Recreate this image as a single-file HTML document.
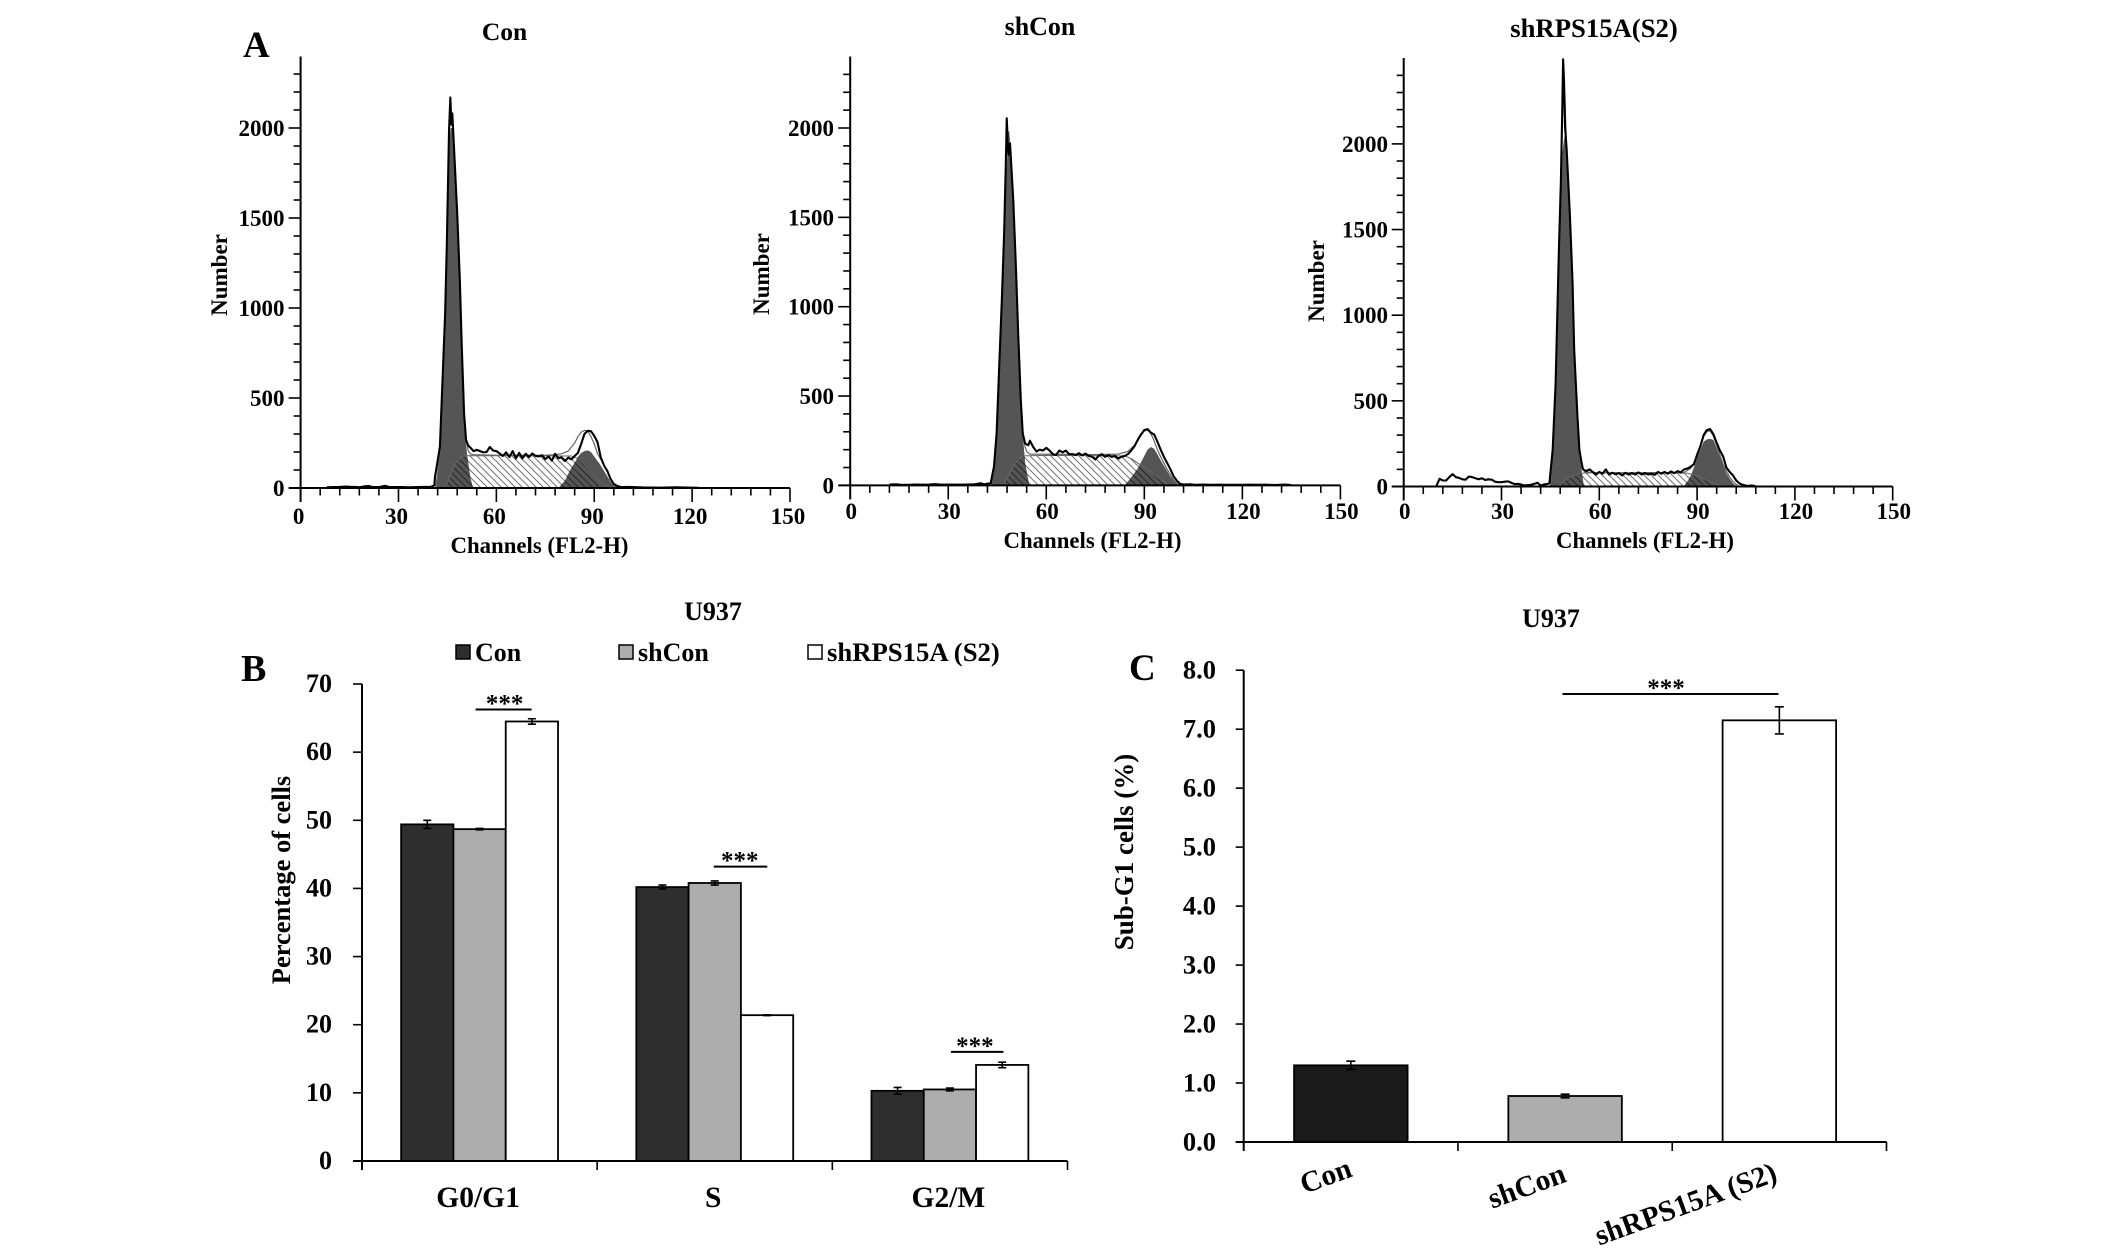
<!DOCTYPE html>
<html lang="en">
<head>
<meta charset="utf-8">
<title>Cell cycle analysis of U937 cells</title>
<style>
  html, body { margin: 0; padding: 0; background: #fff; }
  body { width: 2126px; height: 1252px; overflow: hidden; }
  svg { display: block; }
  text { font-family: "Liberation Serif", "Times New Roman", serif; font-weight: bold; fill: #000; }
</style>
</head>
<body>
<svg id="figure" xmlns="http://www.w3.org/2000/svg" width="2126" height="1252" viewBox="0 0 2126 1252">
  <defs>
    <pattern id="hatch" patternUnits="userSpaceOnUse" width="7" height="7">
      <path d="M-1,-1 L8,8 M-8,-1 L1,8 M6,-1 L15,8" stroke="#000" stroke-opacity="0.55" stroke-width="1" fill="none"/>
    </pattern>
  </defs>
  <rect x="0" y="0" width="2126" height="1252" fill="#fff"/>

  <text x="243" y="57" font-size="37">A</text>
  <text x="241" y="681" font-size="38">B</text>
  <text x="1129" y="680" font-size="37">C</text>

  <text x="504.5" y="40" font-size="25.5" text-anchor="middle">Con</text>
  <text x="1040" y="35" font-size="26" text-anchor="middle">shCon</text>
  <text x="1594" y="37" font-size="26.7" text-anchor="middle">shRPS15A(S2)</text>

  <text x="539.5" y="553" font-size="22.8" text-anchor="middle">Channels (FL2-H)</text>
  <text x="1092.5" y="548" font-size="22.8" text-anchor="middle">Channels (FL2-H)</text>
  <text x="1645" y="548" font-size="22.8" text-anchor="middle">Channels (FL2-H)</text>

  <text transform="translate(227,275) rotate(-90)" font-size="23" text-anchor="middle">Number</text>
  <text transform="translate(769,274) rotate(-90)" font-size="23" text-anchor="middle">Number</text>
  <text transform="translate(1324,281) rotate(-90)" font-size="23" text-anchor="middle">Number</text>

  <text x="713" y="620" font-size="26" text-anchor="middle">U937</text>
  <text transform="translate(290,880) rotate(-90)" font-size="26.5" text-anchor="middle">Percentage of cells</text>

  <g>
    <g>
      <rect x="456" y="645" width="14" height="14" fill="#2e2e2e" stroke="#000" stroke-width="1.5"/>
      <text x="475" y="661" font-size="26">Con</text>
    </g>
    <g>
      <rect x="619" y="645" width="14" height="14" fill="#adadad" stroke="#000" stroke-width="1.5"/>
      <text x="638" y="661" font-size="26">shCon</text>
    </g>
    <g>
      <rect x="808" y="645" width="14" height="14" fill="#fff" stroke="#000" stroke-width="1.5"/>
      <text x="827" y="661" font-size="26.7">shRPS15A (S2)</text>
    </g>
  </g>

  <text x="1551" y="627" font-size="26" text-anchor="middle">U937</text>
  <text transform="translate(1133,852) rotate(-90)" font-size="27" text-anchor="middle">Sub-G1 cells (%)</text>

  <g id="histograms"></g>
  <g id="barsB"></g>
  <g id="barsC"></g>
</svg>

<script>
// ---------- Histogram data: Con ----------
const conRawChannels = [8,10,12,14,15,17,18,20,21,22,24,26,27,29,31,33,36,38,40,41,41.2,42,42.7,43.5,44.3,44.8,45.2,45.5,45.9,46.2,46.5,47,48,48.8,49.4,50.1,50.7,51.4,52,53,54,55,56,57,58,59,60,61,62,63,64,65,66,67,68,69,70,71,72,73,74,75,76,77,78,79,80,81,82,83,84,85,86,87,88,89,90,91,92,93,94,95,96,97,98,99,100,102,105,110,115,120,122];
const conRawCounts = [4,5,6,8,7,6,4,10,11,5,5,12,6,5,5,4,5,6,7,15,63,150,230,600,970,1340,1711,1989,2170,2020,2081,1896,1526,1156,785,415,267,235,225,205,212,205,198,200,228,208,205,192,178,198,172,205,165,195,165,190,172,192,178,175,182,160,175,152,190,165,170,150,168,160,178,195,245,300,318,315,290,255,170,125,95,50,22,12,6,5,6,5,3,2,4,2,1];
const conFitChannels = [41.5,42.7,43.5,44.3,44.8,45.2,45.5,46,46.5,47,48,48.8,49.4,50.1,50.7,51.4,52,53,60,75,78,80,82,84,85,86,87,88,89,90,91,92,93,94,95,96,97];
const conFitCounts = [0,200,570,950,1300,1680,1950,2110,2030,1870,1500,1130,770,420,280,205,190,185,182,182,185,190,205,250,285,310,320,318,285,245,190,160,130,90,50,20,0];
const conG1Channels = [41.2,42,42.7,43.5,44.3,44.8,45.2,45.5,46,46.5,47,48,48.8,49.4,50.1,50.5,51,52,52.9];
const conG1Counts = [0,100,200,570,940,1300,1650,1900,2000,2000,1860,1500,1130,760,400,300,190,60,0];
const conSChannels = [43.9,45,46,47,48,49,50,50.8,83,85,87,89,91,93,94.5];
const conSCounts = [0,30,75,120,150,168,178,180,178,165,130,90,50,15,0];
const conG2Channels = [79,81,82.6,84,85.1,86,87,88,89,90,91,91.5,93,94,95,96,97];
const conG2Counts = [0,40,100,140,176,195,205,209,200,175,150,139,95,65,35,13,0];

// ---------- Histogram data: shCon ----------
const shConRawChannels = [12,14,16,18,20,22,24,26,28,30,33,36,38,40,41,42,43,44,44.8,45.6,46.4,47.1,47.6,47.9,48.4,48.9,49.9,50.7,51.4,52.2,52.8,53.5,54.5,55,56,57,58,59,60,61,62,63,64,65,66,67,68,69,70,71,72,73,74,75,76,77,78,79,80,81,82,83,84,85,86,87,88,89,90,91,92,93,94,95,96,97,98,99,100,101,102,104,106,108,110,113,115,120,122,125,127,130,133,135];
const shConRawCounts = [5,6,3,3,5,4,5,7,4,5,4,5,6,12,6,10,12,105,291,665,1038,1411,1784,2054,1850,1914,1597,1224,851,478,291,235,225,250,215,190,200,195,210,195,175,170,195,185,195,175,175,170,180,168,178,165,160,145,165,175,160,170,160,165,150,160,165,175,195,220,255,285,310,315,295,285,245,200,160,125,90,50,25,8,5,6,3,5,3,4,3,3,4,3,4,2,5,2];
const shConFitChannels = [43.3,44,44.8,45.6,46.4,47.1,47.6,48,48.5,49,49.9,50.7,51.4,52.2,52.8,53.5,54,55,75,82,85,87,89,90,91,92,93,94,95,96,97,98,99,100,101];
const shConFitCounts = [0,90,280,650,1020,1400,1760,1950,1980,1880,1590,1220,850,470,300,215,190,175,172,175,190,225,285,305,310,290,250,200,160,125,90,60,30,10,0];
const shConG1Channels = [43.3,44,44.8,45.6,46.4,47.1,47.6,48.2,48.9,49.9,50.7,51.4,52.2,52.8,53.5,54.8];
const shConG1Counts = [0,80,260,640,1010,1380,1700,1880,1850,1570,1200,830,460,290,130,0];
const shConSChannels = [46.5,48,50,52,53,60,84,86,88,90,92,94,96,97.5];
const shConSCounts = [0,40,110,155,165,168,165,150,125,100,75,45,20,0];
const shConG2Channels = [84,86,88,90,91,92,93,94,95,96,97,98,99,100,100.8];
const shConG2Counts = [0,45,95,165,200,215,205,175,140,110,80,50,28,8,0];

// ---------- Histogram data: shRPS15A(S2) ----------
const shRpsRawChannels = [10,11,12,13,14,15,16,17,18,19,20,21,22,23,24,25,26,27,28,29,30,31,32,33,34,35,36,37,38,39,40,41,42,43,44,44.7,45.7,46.6,47.1,47.6,48.2,48.6,48.9,49.2,49.5,50,51,51.8,52.3,53.3,53.9,54.6,55,56,57,58,59,60,61,62,63,64,65,66,67,68,69,70,71,72,73,74,75,76,77,78,79,80,81,82,83,84,85,86,87,88,89,90,91,92,93,94,95,96,97,98,99,100,101,102,103,104,105,106,107,108];
const shRpsRawCounts = [2,45,35,35,55,72,55,50,42,40,58,55,48,42,48,38,42,40,28,25,25,28,30,22,14,15,12,6,8,10,15,22,6,12,14,19,213,602,991,1379,1768,2157,2494,2354,2100,1963,1575,1186,797,408,213,135,100,90,100,85,70,85,75,100,70,80,72,78,65,80,70,78,70,82,70,78,70,75,68,85,75,85,75,88,78,90,82,100,105,115,130,185,235,300,330,335,305,255,210,175,110,85,65,35,18,10,5,4,6,1];
const shRpsFitChannels = [45,45.7,46.6,47.1,47.6,48.2,48.6,49,49.4,50,51,51.8,52.3,53.3,53.9,54.6,55.5,60,86,88,89,90,91,92,93,94,95,96,97,98,99,100,101,102,103];
const shRpsFitCounts = [0,200,590,980,1370,1760,2100,2350,2300,1950,1560,1170,780,400,200,110,85,80,82,105,130,175,235,290,320,325,295,240,185,130,90,55,30,12,0];
const shRpsG1Channels = [45,45.7,46.6,47.1,47.6,48.2,48.7,49.3,50,51,51.8,52.3,53.3,53.9,54.6,55.3];
const shRpsG1Counts = [0,180,570,960,1350,1730,1950,2050,1930,1540,1150,770,380,200,90,0];
const shRpsSChannels = [47.5,49,51,53,55,60,87,89,90.3,93.9,97,98];
const shRpsSCounts = [0,30,55,70,78,80,78,68,58,29,6,0];
const shRpsG2Channels = [85.8,87,88,89,90,91,92,93,94,95,96,97,98,99,100,101,102.3];
const shRpsG2Counts = [0,30,60,110,165,215,262,275,278,272,225,175,125,78,45,20,0];

// ---------- Histogram tick labels ----------
const histXTickLabels = [0,30,60,90,120,150];
const histYTickLabels = [0,500,1000,1500,2000];

// ---------- Bar chart B data ----------
const phaseCategories = ['G0/G1','S','G2/M'];
const phaseConValues = [49.4,40.2,10.3];
const phaseShConValues = [48.7,40.8,10.5];
const phaseShRpsValues = [64.5,21.4,14.1];
const phaseConErrors = [0.6,0.3,0.5];
const phaseShConErrors = [0.1,0.3,0.2];
const phaseShRpsErrors = [0.4,0.05,0.4];
const phaseYTickLabels = ['0','10','20','30','40','50','60','70'];

// ---------- Bar chart C data ----------
const subG1Categories = ['Con','shCon','shRPS15A (S2)'];
const subG1Values = [1.3,0.78,7.15];
const subG1Errors = [0.07,0.03,0.23];
const subG1YTickLabels = ['0.0','1.0','2.0','3.0','4.0','5.0','6.0','7.0','8.0'];

// ---------- Helpers ----------
const NS = 'http://www.w3.org/2000/svg';
function add(parent, tag, attrs, text) {
  const el = document.createElementNS(NS, tag);
  for (const k in attrs) el.setAttribute(k, attrs[k]);
  if (text !== undefined) el.textContent = text;
  parent.appendChild(el);
  return el;
}
function linePath(xs, ys, sx, sy) {
  return xs.map((c, i) => (i ? 'L' : 'M') + sx(c).toFixed(2) + ',' + sy(ys[i]).toFixed(2)).join(' ');
}
function areaPath(xs, ys, sx, sy) {
  return linePath(xs, ys, sx, sy) + ' L' + sx(xs[xs.length - 1]).toFixed(2) + ',' + sy(0).toFixed(2) +
    ' L' + sx(xs[0]).toFixed(2) + ',' + sy(0).toFixed(2) + ' Z';
}

// ---------- Histogram panels ----------
function drawHistogram(root, p, d) {
  const sx = c => p.x0 + (c / 150) * (p.x150 - p.x0);
  const sy = n => p.y0 - (n / 2000) * (p.y0 - p.y2000);
  const g = add(root, 'g', {});
  
  

  const g1 = add(g, 'path', { d: areaPath(d.g1x, d.g1y, sx, sy), fill: '#555' });
  
  
  const g2 = add(g, 'path', { d: areaPath(d.g2x, d.g2y, sx, sy), fill: '#555' });
  
  
  const sp = add(g, 'path', { d: areaPath(d.sx, d.sy, sx, sy), fill: 'url(#hatch)', stroke: '#666', 'stroke-width': 1 });
  
  
  const fit = add(g, 'path', { d: linePath(d.fitx, d.fity, sx, sy), fill: 'none', stroke: '#666', 'stroke-width': 1.2 });
  
  
  const raw = add(g, 'path', { d: linePath(d.rawx, d.rawy, sx, sy), fill: 'none', stroke: '#000', 'stroke-width': 2.1, 'stroke-linejoin': 'round' });
  
  

  const yAxis = add(g, 'line', { x1: p.x0, x2: p.x0, y1: sy(0) + 14, y2: p.top, stroke: '#000', 'stroke-width': 2 });
  
  
  const xAxis = add(g, 'line', { x1: p.x0 - 12, x2: p.x150, y1: sy(0), y2: sy(0), stroke: '#000', 'stroke-width': 2 });
  
  

  for (let n = 100; n <= p.maxTick; n += 100) {
    const major = n % 500 === 0;
    const t = add(g, 'line', { x1: p.x0 - (major ? 12 : 7), x2: p.x0, y1: sy(n), y2: sy(n), stroke: '#000', 'stroke-width': 1.6 });
    
    
  }
  for (let c = 6; c <= 150; c += 6) {
    const major = c % 30 === 0;
    const t = add(g, 'line', { x1: sx(c), x2: sx(c), y1: sy(0), y2: sy(0) + (major ? 14 : 7.5), stroke: '#000', 'stroke-width': 1.6 });
    
    
  }
  histYTickLabels.forEach(v => {
    const t = add(g, 'text', { x: p.yLabelRight, y: sy(v) + 8, 'font-size': 23, 'text-anchor': 'end' }, v);
    
    
  });
  histXTickLabels.forEach(v => {
    const t = add(g, 'text', { x: sx(v) + p.xLabelDx, y: p.xLabelY, 'font-size': 23, 'text-anchor': 'middle' }, v);
    
    
  });
}

const histRoot = document.getElementById('histograms');
drawHistogram(histRoot,
  { name: 'con', x0: 300.6, x150: 790, y0: 488, y2000: 128, top: 56.5, maxTick: 2300, yLabelRight: 284.5, xLabelY: 524, xLabelDx: -2 },
  { rawx: conRawChannels, rawy: conRawCounts, fitx: conFitChannels, fity: conFitCounts, g1x: conG1Channels, g1y: conG1Counts, sx: conSChannels, sy: conSCounts, g2x: conG2Channels, g2y: conG2Counts });
drawHistogram(histRoot,
  { name: 'shcon', x0: 850.2, x150: 1340.4, y0: 485.4, y2000: 128, top: 56.5, maxTick: 2300, yLabelRight: 834, xLabelY: 519, xLabelDx: 1 },
  { rawx: shConRawChannels, rawy: shConRawCounts, fitx: shConFitChannels, fity: shConFitCounts, g1x: shConG1Channels, g1y: shConG1Counts, sx: shConSChannels, sy: shConSCounts, g2x: shConG2Channels, g2y: shConG2Counts });
drawHistogram(histRoot,
  { name: 'shrps15a', x0: 1403.7, x150: 1892.7, y0: 486.5, y2000: 143.9, top: 58, maxTick: 2400, yLabelRight: 1388, xLabelY: 519, xLabelDx: 1 },
  { rawx: shRpsRawChannels, rawy: shRpsRawCounts, fitx: shRpsFitChannels, fity: shRpsFitCounts, g1x: shRpsG1Channels, g1y: shRpsG1Counts, sx: shRpsSChannels, sy: shRpsSCounts, g2x: shRpsG2Channels, g2y: shRpsG2Counts });

// ---------- Chart B ----------
(function () {
  const root = document.getElementById('barsB');
  const left = 362, right = 1067.5, y0 = 1161, y70 = 684;
  const sy = v => y0 - (v / 70) * (y0 - y70);
  const band = (right - left) / phaseCategories.length;
  const barW = 52.3;
  const sigGap = [12, 16.4, 13];
  const sigFrom = [-4, -1, 1];
  const sigTo = [52, 52.5, 53.5];
  const series = [
    { name: 'con', values: phaseConValues, errors: phaseConErrors, fill: '#2e2e2e' },
    { name: 'shcon', values: phaseShConValues, errors: phaseShConErrors, fill: '#adadad' },
    { name: 'shrps15a', values: phaseShRpsValues, errors: phaseShRpsErrors, fill: '#fff' }
  ];
  phaseCategories.forEach((cat, i) => {
    const cx = left + band * (i + 0.5);
    series.forEach((s, j) => {
      const x = cx + (j - 1.5) * barW;
      const bar = add(root, 'rect', { x: x, y: sy(s.values[i]), width: barW, height: y0 - sy(s.values[i]), fill: s.fill, stroke: '#000', 'stroke-width': 1.8 });
      
      
      const mx = x + barW / 2;
      const e = s.errors[i];
      const err = add(root, 'path', {
        d: 'M' + mx + ',' + sy(s.values[i] + e) + ' V' + sy(s.values[i] - e) +
           ' M' + (mx - 4) + ',' + sy(s.values[i] + e) + ' H' + (mx + 4) +
           ' M' + (mx - 4) + ',' + sy(s.values[i] - e) + ' H' + (mx + 4),
        stroke: '#000', 'stroke-width': 1.6, fill: 'none' });
      
      
    });
    const label = add(root, 'text', { x: cx - 1.5, y: 1207, 'font-size': 29.5, 'text-anchor': 'middle' }, cat);
    
    
  });
  const yAxis = add(root, 'line', { x1: left, x2: left, y1: y70, y2: y0 + 9, stroke: '#000', 'stroke-width': 2 });
  
  
  const xAxis = add(root, 'line', { x1: left - 9, x2: right, y1: y0, y2: y0, stroke: '#000', 'stroke-width': 2 });
  
  
  phaseCategories.forEach((cat, i) => {
    const tx = left + band * (i + 1);
    const t = add(root, 'line', { x1: tx, x2: tx, y1: y0, y2: y0 + 9, stroke: '#000', 'stroke-width': 1.6 });
    
    
  });
  phaseYTickLabels.forEach(lbl => {
    const v = parseFloat(lbl);
    const t = add(root, 'line', { x1: left - 9, x2: left, y1: sy(v), y2: sy(v), stroke: '#000', 'stroke-width': 1.6 });
    
    
    const l = add(root, 'text', { x: 332, y: sy(v) + 8, 'font-size': 26, 'text-anchor': 'end' }, lbl);
    
    
  });
  // significance brackets: placed above the tallest bar of each group
  phaseCategories.forEach((cat, i) => {
    const cx = left + band * (i + 0.5);
    const top = Math.max(phaseConValues[i], phaseShConValues[i], phaseShRpsValues[i]);
    const by = sy(top) - sigGap[i];
    const sig = add(root, 'line', { x1: cx + sigFrom[i], x2: cx + sigTo[i], y1: by, y2: by, stroke: '#000', 'stroke-width': 2 });
    
    
    const star = add(root, 'text', { x: cx + 25, y: by + 2, 'font-size': 25, 'text-anchor': 'middle' }, '***');
    
    
  });
})();

// ---------- Chart C ----------
(function () {
  const root = document.getElementById('barsC');
  const left = 1243.7, right = 1886.5, y0 = 1142, y8 = 670.2;
  const sy = v => y0 - (v / 8) * (y0 - y8);
  const band = (right - left) / subG1Categories.length;
  const barW = 113.5;
  const fills = ['#1a1a1a', '#adadad', '#fff'];
  const labelPos = [[1329, 1185], [1530, 1195], [1689, 1213]];
  subG1Categories.forEach((cat, i) => {
    const cx = left + band * (i + 0.5);
    const bar = add(root, 'rect', { x: cx - barW / 2, y: sy(subG1Values[i]), width: barW, height: y0 - sy(subG1Values[i]), fill: fills[i], stroke: '#000', 'stroke-width': 1.8 });
    
    
    const e = subG1Errors[i];
    const v = subG1Values[i];
    const err = add(root, 'path', {
      d: 'M' + cx + ',' + sy(v + e) + ' V' + sy(v - e) +
         ' M' + (cx - 4.5) + ',' + sy(v + e) + ' H' + (cx + 4.5) +
         ' M' + (cx - 4.5) + ',' + sy(v - e) + ' H' + (cx + 4.5),
      stroke: '#000', 'stroke-width': 1.6, fill: 'none' });
    
    
    const label = add(root, 'text', { transform: 'translate(' + labelPos[i][0] + ',' + labelPos[i][1] + ') rotate(-20)', 'font-size': 29.5, 'text-anchor': 'middle' }, cat);
    
    
    const tx = left + band * (i + 1);
    const t = add(root, 'line', { x1: tx, x2: tx, y1: y0, y2: y0 + 9, stroke: '#000', 'stroke-width': 1.6 });
    
    
  });
  const yAxis = add(root, 'line', { x1: left, x2: left, y1: y8, y2: y0 + 9, stroke: '#000', 'stroke-width': 2 });
  
  
  const xAxis = add(root, 'line', { x1: left - 8, x2: right, y1: y0, y2: y0, stroke: '#000', 'stroke-width': 2 });
  
  
  subG1YTickLabels.forEach(lbl => {
    const v = parseFloat(lbl);
    const t = add(root, 'line', { x1: left - 8, x2: left, y1: sy(v), y2: sy(v), stroke: '#000', 'stroke-width': 1.6 });
    
    
    const l = add(root, 'text', { x: 1216, y: sy(v) + 8.5, 'font-size': 26.5, 'text-anchor': 'end' }, lbl);
    
    
  });
  const sig = add(root, 'line', { x1: 1562.5, x2: 1778.5, y1: 694, y2: 694, stroke: '#000', 'stroke-width': 2 });
  
  
  const star = add(root, 'text', { x: 1666, y: 696, 'font-size': 25, 'text-anchor': 'middle' }, '***');
  
  
})();
</script>
</body>
</html>
